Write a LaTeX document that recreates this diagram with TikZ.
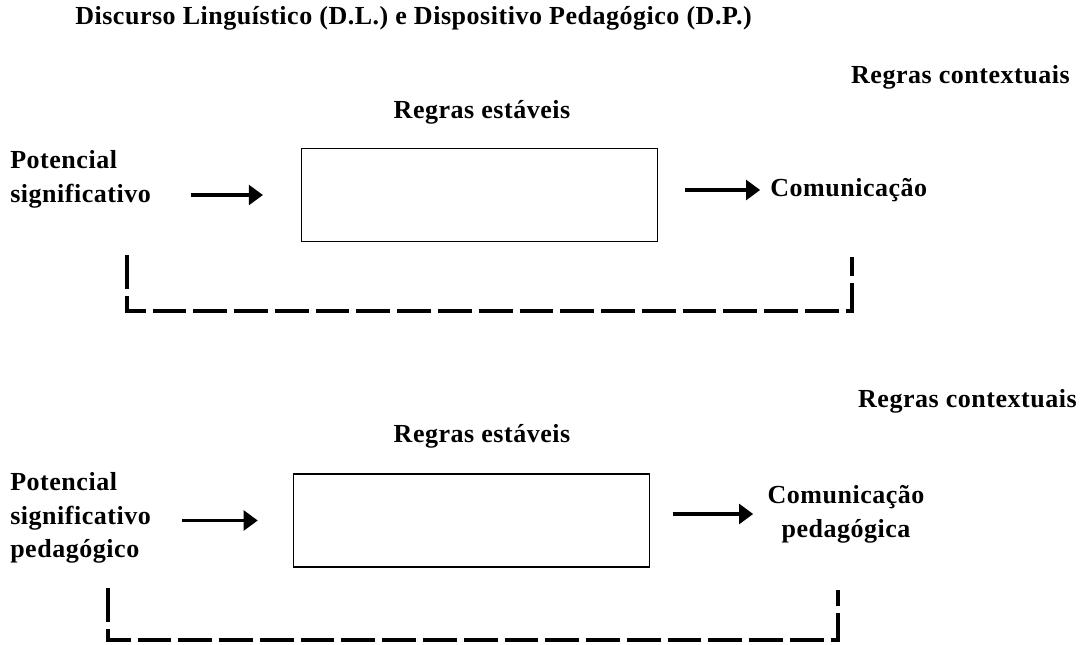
\documentclass[tikz,border=0pt]{standalone}
\usepackage{fontspec}
\setmainfont{Liberation Serif}[LetterSpace=2]
\usetikzlibrary{arrows.meta}

\tikzset{
    lbl/.style={font=\bfseries\fontsize{18.5}{24}\selectfont, inner sep=0pt},
    regbox/.style={draw, line width=1pt, minimum width=253pt, minimum height=66pt, inner sep=0pt},
    flow/.style={line width=2.4pt, -{Triangle[length=10pt, width=14pt]}},
    bracket/.style={line width=2.2pt, dash pattern=on 24pt off 5pt}
}

\begin{document}
\begin{tikzpicture}[x=0.025cm, y=-0.025cm]
    \useasboundingbox (0,0) rectangle (1087,645);

    \node[lbl, anchor=west] (title) at (75,18) {Discurso Linguístico (D.L.) e Dispositivo Pedagógico (D.P.)};

    \node[lbl, anchor=east] (ctx1) at (1070,77) {Regras contextuais};
    \node[lbl] (est1) at (482,112) {Regras estáveis};
    \node[lbl, anchor=west, align=left] (pot1) at (10,179) {Potencial\\significativo};
    \node[regbox] (box1) at (479.5,195) {};
    \node[lbl, anchor=west] (com1) at (770,190) {Comunicação};
    \draw[flow, shorten <=28pt, shorten >=27pt] (pot1.east |- box1.west) -- (box1.west);
    \draw[flow, shorten <=19pt, shorten >=7pt] (box1.east |- com1.west) -- (com1.west);
    \draw[bracket] (127,255) |- (852,311) -- (852,257);

    \node[lbl, anchor=east] (ctx2) at (1077,401) {Regras contextuais};
    \node[lbl] (est2) at (482,436) {Regras estáveis};
    \node[lbl, anchor=west, align=left] (pot2) at (10,518) {Potencial\\significativo\\pedagógico};
    \node[regbox] (box2) at (471.5,520.5) {};
    \node[lbl, align=center] (com2) at (846,514) {Comunicação\\pedagógica};
    \draw[flow, shorten <=22pt, shorten >=25pt] (pot2.east |- box2.west) -- (box2.west);
    \draw[flow, shorten <=16pt, shorten >=10pt] (box2.east |- com2.west) -- (com2.west);
    \draw[bracket] (108,588) |- (838,640) -- (838,590);
\end{tikzpicture}
\end{document}
